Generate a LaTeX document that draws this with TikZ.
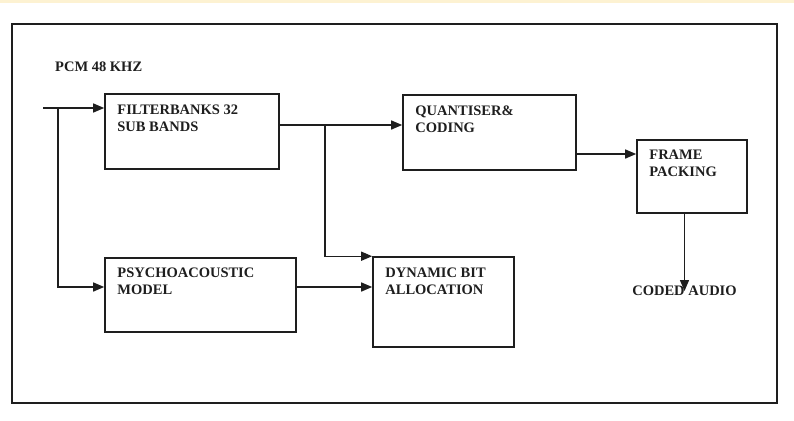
\documentclass[tikz,border=0pt]{standalone}
\usepackage{fontspec}
\setmainfont{Liberation Serif}
\usetikzlibrary{arrows.meta}
\definecolor{ink}{HTML}{1E1E1E}
\definecolor{band}{HTML}{FDF2D2}
\begin{document}
\begin{tikzpicture}[x=1pt,y=-1pt,
  blk/.style={draw=ink,line width=1.6pt,inner sep=0pt},
  lbl/.style={anchor=north west,align=left,inner xsep=13pt,inner ysep=11pt,font=\fontsize{14.5}{17}\selectfont\bfseries,text=ink},
  conn/.style={draw=ink,line width=1.4pt,-{Triangle[length=11pt,width=9pt]}}]
\useasboundingbox (0,0) rectangle (794,420);
\fill[band] (0,0) rectangle (794,3.5);
\draw[draw=ink,line width=1.3pt] (12,24) rectangle (777,403);
\node[lbl,anchor=base west,inner sep=0pt] (pcm) at (55,71.5) {PCM 48 KHZ};
\node[blk,minimum width=174pt,minimum height=75pt] (fb) at (192,131.5) {};
\node[lbl] (fbtxt) at (fb.north west) {FILTERBANKS 32\\SUB BANDS};
\node[blk,minimum width=173pt,minimum height=75pt] (quant) at (489.5,132.5) {};
\node[lbl] (quanttxt) at (quant.north west) {QUANTISER\&\\CODING};
\node[blk,minimum width=110pt,minimum height=73pt] (frame) at (692,176.5) {};
\node[lbl] (frametxt) at (frame.north west) {FRAME\\PACKING};
\node[blk,minimum width=191pt,minimum height=74pt] (psy) at (200.5,295) {};
\node[lbl,inner ysep=10pt] (psytxt) at (psy.north west) {PSYCHOACOUSTIC\\MODEL};
\node[blk,minimum width=141pt,minimum height=90pt] (dba) at (443.5,302) {};
\node[lbl] (dbatxt) at (dba.north west) {DYNAMIC BIT\\ALLOCATION};
\node[lbl,anchor=center,inner sep=0pt] (out) at (684.5,291) {CODED AUDIO};
\coordinate (in) at (43,108);
\coordinate (tap1) at (58,108);
\coordinate (fbout) at ([yshift=6.5pt]fb.east);
\coordinate (tap2) at (325,125);
\coordinate (psyout) at ([yshift=8pt]psy.east);
\coordinate (qout) at ([yshift=-21.5pt]quant.east);
\draw[conn] (in) -- (in -| fb.west);
\draw[conn] (tap1) |- ([yshift=8pt]psy.west);
\draw[conn] (fbout) -- (fbout -| quant.west);
\draw[conn] (tap2) |- (dba.north west);
\draw[conn] (psyout) -- (psyout -| dba.west);
\draw[conn] (qout) -- (qout -| frame.west);
\draw[conn] (out |- frame.south) -- (out.center);
\end{tikzpicture}
\end{document}
